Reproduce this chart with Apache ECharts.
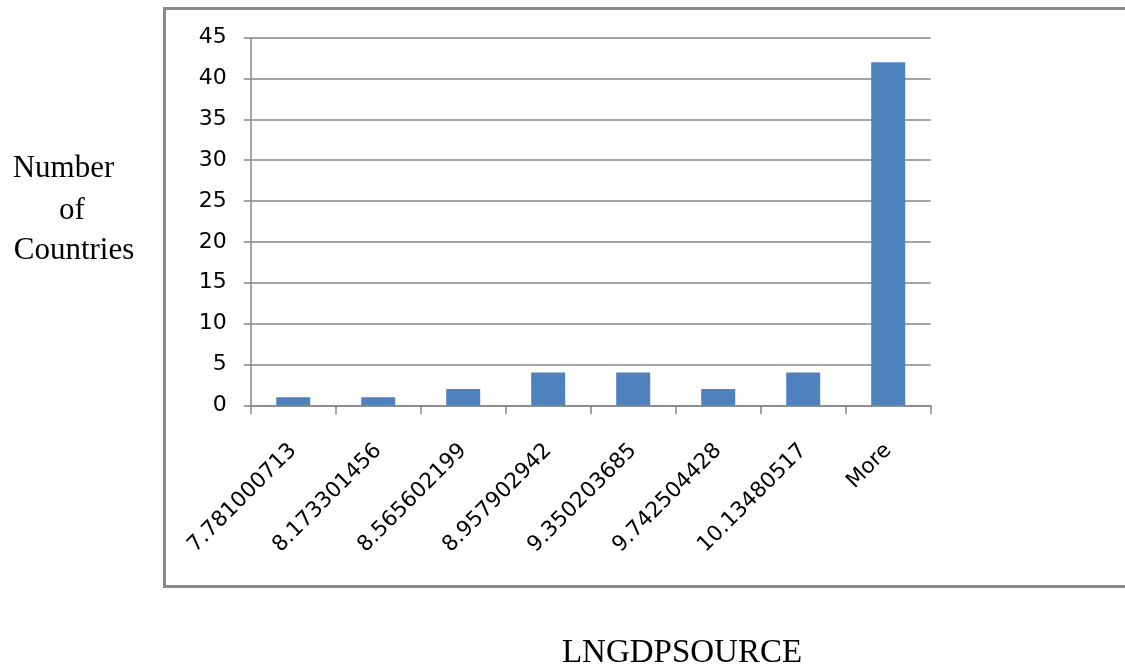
<!DOCTYPE html>
<html>
<head>
<meta charset="utf-8">
<script src="https://cdn.jsdelivr.net/npm/echarts@6/dist/echarts.min.js"></script>
<style>
  html, body { margin: 0; padding: 0; background: #fff; }
  #chart { width: 1125px; height: 669px; }
</style>
</head>
<body>
<div id="chart"></div>
<script>
// Histogram of log GDP per source: bin upper bounds and country counts
const binLabels = ['7.781000713', '8.173301456', '8.565602199', '8.957902942',
                   '9.350203685', '9.742504428', '10.13480517', 'More'];
const frequencies = [1, 1, 2, 4, 4, 2, 4, 42];
const yTitleLines = ['Number', 'of', 'Countries'];
const xTitle = 'LNGDPSOURCE';

const chart = echarts.init(document.getElementById('chart'), null, { renderer: 'canvas' });

const axisGrey = '#868686';
const labelFont = 'DejaVu Sans, Verdana, sans-serif';
const serif = 'Liberation Serif, Times New Roman, serif';

chart.setOption({
  animation: false,
  backgroundColor: '#ffffff',
  grid: { left: 250.7, right: 194.3, top: 37.7, bottom: 263.7, containLabel: false },
  xAxis: {
    type: 'category',
    data: binLabels,
    boundaryGap: true,
    axisLine: { show: true, lineStyle: { color: axisGrey, width: 1.5 } },
    axisTick: { show: true, alignWithLabel: false, length: 9, lineStyle: { color: axisGrey, width: 1.5 } },
    axisLabel: {
      interval: 0, rotate: 45, margin: 42,
      color: '#000', fontFamily: labelFont, fontSize: 21.5
    },
    splitLine: { show: false }
  },
  yAxis: {
    type: 'value',
    min: 0, max: 45, interval: 5,
    axisLine: { show: true, lineStyle: { color: axisGrey, width: 1.5 } },
    axisTick: { show: true, inside: false, length: 7, lineStyle: { color: axisGrey, width: 1.5 } },
    axisLabel: { margin: 24, color: '#000', fontFamily: labelFont, fontSize: 22 },
    splitLine: { show: true, lineStyle: { color: axisGrey, width: 1.5 } }
  },
  series: [{
    type: 'bar',
    data: frequencies,
    barWidth: '40%',
    itemStyle: { color: '#4F81BD' }
  }],
  graphic: [
    // chart-area frame
    { type: 'rect', left: 162, top: 6, silent: true, z: -1,
      shape: { x: 0, y: 0, width: 980, height: 578 },
      style: { fill: 'none', stroke: '#8a8a8a', lineWidth: 3 } },
    { type: 'text', x: 63.5, y: 184, style: { text: yTitleLines[0], font: '31px ' + serif, fill: '#000', textAlign: 'center', textVerticalAlign: 'bottom' } },
    { type: 'text', x: 72, y: 226, style: { text: yTitleLines[1], font: '31px ' + serif, fill: '#000', textAlign: 'center', textVerticalAlign: 'bottom' } },
    { type: 'text', x: 74, y: 266, style: { text: yTitleLines[2], font: '31px ' + serif, fill: '#000', textAlign: 'center', textVerticalAlign: 'bottom' } },
    { type: 'text', x: 682, y: 670, style: { text: xTitle, font: '33px ' + serif, fill: '#000', textAlign: 'center', textVerticalAlign: 'bottom' } }
  ]
});
</script>
</body>
</html>
